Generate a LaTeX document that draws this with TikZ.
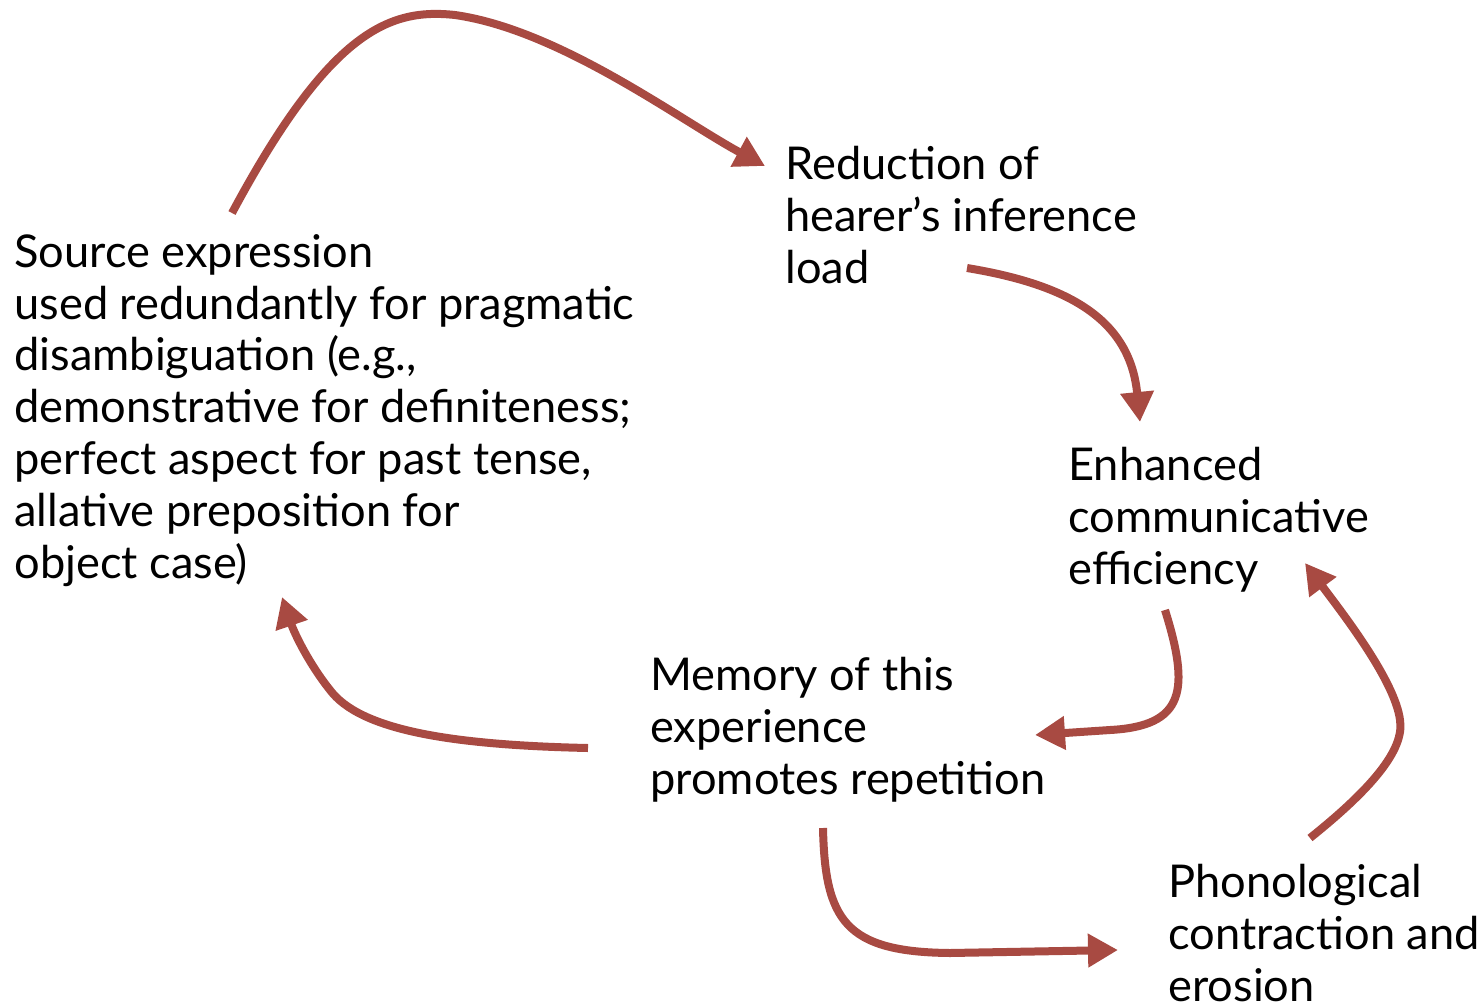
\documentclass[tikz,border=0pt]{standalone}
\usepackage{fontspec}
\setmainfont{Lato}
\usetikzlibrary{arrows.meta}
\definecolor{arrowred}{RGB}{168,74,66}
\begin{document}
\begin{tikzpicture}[x=0.5pt,y=-0.5pt,
  label/.style={align=left,inner sep=0pt,anchor=base west,
    font=\fontsize{22.6}{25.9}\selectfont},
  flow/.style={arrowred,line width=4pt,
    -{Triangle[length=15pt,width=16pt]}}]
\useasboundingbox (0,0) rectangle (1479,1002);

% labels are anchored at the baseline of their last line
\node[label] (src) at (14,578) {Source expression\\used redundantly for pragmatic\\disambiguation (e.g.,\\demonstrative for definiteness;\\perfect aspect for past tense,\\allative preposition for\\object case)};
\node[label] (red) at (785,283) {Reduction of\\hearer’s inference\\load};
\node[label] (enh) at (1068,584) {Enhanced\\communicative\\efficiency};
\node[label] (mem) at (650,794) {Memory of this\\experience\\promotes repetition};
\node[label] (pho) at (1168,1001) {Phonological\\contraction and\\erosion};

% source -> reduction (large arc over the top)
\draw[flow] ([shift={(218,-365)}]src.base west)
  .. controls (330,30) and (390,8) .. (455,15)
  .. controls (560,30) and (680,120) .. ([shift={(-20,-117)}]red.base west);
% reduction -> enhanced
\draw[flow] ([shift={(182,-15)}]red.base west)
  .. controls (1070,285) and (1130,320) .. ([shift={(72,-162)}]enh.base west);
% enhanced -> memory
\draw[flow] ([shift={(97,26)}]enh.base west)
  .. controls (1190,690) and (1185,726) .. (1110,730)
  -- ([shift={(385,-59)}]mem.base west);
% phonological -> enhanced
\draw[flow] ([shift={(142,-163)}]pho.base west)
  .. controls (1370,790) and (1405,750) .. (1400,720)
  .. controls (1395,680) and (1340,610) .. ([shift={(237,-21)}]enh.base west);
% memory -> phonological
\draw[flow] ([shift={(173,34)}]mem.base west)
  .. controls (825,920) and (845,952) .. (950,953)
  -- ([shift={(-50,-51)}]pho.base west);
% memory -> source
\draw[flow] ([shift={(-62,-46)}]mem.base west)
  .. controls (450,745) and (360,730) .. (330,690)
  .. controls (310,665) and (295,635) .. ([shift={(268,19)}]src.base west);
\end{tikzpicture}
\end{document}
